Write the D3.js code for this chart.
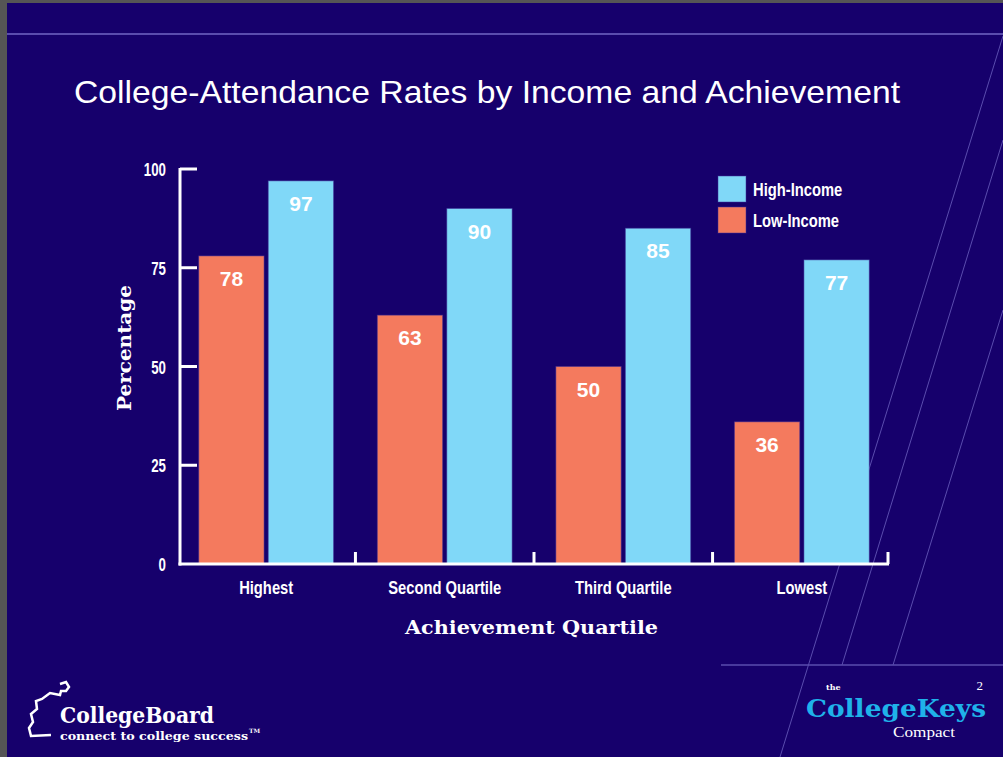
<!DOCTYPE html>
<html>
<head>
<meta charset="utf-8">
<script src="https://cdn.jsdelivr.net/npm/d3@7"></script>
<style>
  html, body { margin: 0; padding: 0; background: #16006c; }
  svg { display: block; }
</style>
</head>
<body>
<div id="chart"></div>
<script>
// chart data
const categories = ["Highest", "Second Quartile", "Third Quartile", "Lowest"];
const series = ["Low-Income", "High-Income"];
const lowIncome = [78, 63, 50, 36];
const highIncome = [97, 90, 85, 77];
const yTicks = [0, 25, 50, 75, 100];
const legendOrder = ["High-Income", "Low-Income"];

const W = 1003, H = 757;
const bg = "#16006c";
const color = d3.scaleOrdinal().domain(series).range(["#f47a5e", "#80d8f8"]);

const svg = d3.select("#chart").append("svg").attr("width", W).attr("height", H);

svg.append("rect").attr("width", W).attr("height", H).attr("fill", bg);

// slide frame: grey edge top/left
svg.append("rect").attr("x", 0).attr("y", 0).attr("width", W).attr("height", 3).attr("fill", "#555");
svg.append("rect").attr("x", 0).attr("y", 0).attr("width", 7).attr("height", H).attr("fill", "#555");

// decorative lines
const deco = svg.append("g").attr("stroke", "#5a4cae").attr("fill", "none");
deco.append("line").attr("x1", 7).attr("x2", W).attr("y1", 34).attr("y2", 34).attr("stroke-width", 2);
deco.append("line").attr("x1", 721).attr("x2", W).attr("y1", 665).attr("y2", 665).attr("stroke-width", 1.5);
deco.append("line").attr("x1", 1003).attr("y1", 36).attr("x2", 780).attr("y2", 757);
deco.append("line").attr("x1", 1003).attr("y1", 140).attr("x2", 842).attr("y2", 665);
deco.append("line").attr("x1", 1003).attr("y1", 310).attr("x2", 893).attr("y2", 665);

// title
svg.append("text")
  .attr("x", 74).attr("y", 103)
  .attr("textLength", 826).attr("lengthAdjust", "spacingAndGlyphs")
  .attr("fill", "#fff")
  .style("font-family", "Liberation Sans, Arial, sans-serif")
  .style("font-size", "32px")
  .text("College-Attendance Rates by Income and Achievement");

// scales
const x0 = d3.scaleBand().domain(categories).range([180, 888]).paddingInner(0.245).paddingOuter(0.105);
const x1 = d3.scaleBand().domain(series).range([0, x0.bandwidth()]).paddingInner(0.06);
const y = d3.scaleLinear().domain([0, 100]).range([564, 169]);

const condensed = (sel) =>
  sel.style("font-family", "Liberation Sans, Arial, sans-serif")
    .style("font-weight", "bold")
    .attr("fill", "#fff");

// bars
const rows = categories.map((c, i) => ({ cat: c, values: [
  { key: "Low-Income", v: lowIncome[i] },
  { key: "High-Income", v: highIncome[i] }
] }));

const groups = svg.append("g").selectAll("g")
  .data(rows)
  .join("g")
  .attr("transform", (d) => `translate(${x0(d.cat)},0)`);

groups.selectAll("rect")
  .data((d) => d.values)
  .join("rect")
  .attr("x", (d) => x1(d.key))
  .attr("y", (d) => y(d.v))
  .attr("width", x1.bandwidth())
  .attr("height", (d) => y(0) - y(d.v))
  .attr("fill", (d) => color(d.key))
  .attr("stroke", "#3f2f98")
  .attr("stroke-opacity", 0.5)
  .attr("stroke-width", 1);

groups.selectAll("text")
  .data((d) => d.values)
  .join("text")
  .attr("x", (d) => x1(d.key) + x1.bandwidth() / 2)
  .attr("y", (d) => y(d.v) + 30)
  .attr("text-anchor", "middle")
  .attr("fill", "#fff")
  .style("font-family", "Liberation Sans, Arial, sans-serif")
  .style("font-weight", "bold")
  .style("font-size", "21px")
  .text((d) => d.v);

// axes
const axisG = svg.append("g").attr("stroke", "#fff").attr("stroke-width", 3).attr("fill", "none");
axisG.append("line").attr("x1", 180).attr("x2", 180).attr("y1", y(100) - 1).attr("y2", y(0) + 1.5);
axisG.append("line").attr("x1", 178.5).attr("x2", 889).attr("y1", y(0)).attr("y2", y(0));
axisG.selectAll(".ytick").data(yTicks.filter((t) => t > 0)).join("line")
  .attr("x1", 180).attr("x2", 197)
  .attr("y1", (d) => y(d)).attr("y2", (d) => y(d));
const bounds = categories.slice(1).map((c) => x0(c) - x0.step() * x0.paddingInner() / 2).concat([888]);
axisG.selectAll(".xtick").data(bounds).join("line")
  .attr("x1", (d) => d).attr("x2", (d) => d)
  .attr("y1", y(0)).attr("y2", y(0) - 12);

// y tick labels
svg.append("g").selectAll("text")
  .data(yTicks)
  .join("text")
  .attr("transform", (d) => `translate(166,${y(d) + 7}) scale(0.7,1)`)
  .attr("text-anchor", "end")
  .call(condensed)
  .style("font-size", "19px")
  .text((d) => d);

// category labels
svg.append("g").selectAll("text")
  .data(categories)
  .join("text")
  .attr("transform", (d) => `translate(${x0(d) + x0.bandwidth() / 2},${594}) scale(0.82,1)`)
  .attr("text-anchor", "middle")
  .call(condensed)
  .style("font-size", "18px")
  .text((d) => d);

// axis titles
const slab = (sel) =>
  sel.style("font-family", "DejaVu Serif, serif")
    .style("font-weight", "bold")
    .attr("fill", "#fff");

svg.append("text")
  .attr("x", 405).attr("y", 634)
  .attr("textLength", 253).attr("lengthAdjust", "spacingAndGlyphs")
  .call(slab).style("font-size", "19px")
  .text("Achievement Quartile");

svg.append("text")
  .attr("transform", "translate(131,411) rotate(-90)")
  .attr("textLength", 126).attr("lengthAdjust", "spacingAndGlyphs")
  .call(slab).style("font-size", "18px")
  .text("Percentage");

// legend
const legend = svg.append("g").selectAll("g")
  .data(legendOrder)
  .join("g")
  .attr("transform", (d, i) => `translate(718,${176 + i * 31})`);
legend.append("rect")
  .attr("width", 28).attr("height", 26)
  .attr("fill", (d) => color(d))
  .attr("stroke", "#3f2f98").attr("stroke-opacity", 0.5);
legend.append("text")
  .attr("transform", "translate(35,20) scale(0.82,1)")
  .call(condensed)
  .style("font-size", "18px")
  .text((d) => d);

// footer: College Board logo
const logo = svg.append("g");
logo.append("path")
  .attr("d", "M60,684 l6,-2 l3,5 l-3,4 l-5,0 l-1,4 l-10,-2 l-8,6 l-6,2 l1,8 l-6,5 l2,8 l-4,6 l2,8 l20,-1")
  .attr("fill", "none").attr("stroke", "#fff").attr("stroke-width", 2.5);
logo.append("text")
  .attr("x", 60).attr("y", 723)
  .attr("textLength", 154).attr("lengthAdjust", "spacingAndGlyphs")
  .call(slab).style("font-size", "22px")
  .text("CollegeBoard");
logo.append("text")
  .attr("x", 60).attr("y", 740)
  .attr("textLength", 188).attr("lengthAdjust", "spacingAndGlyphs")
  .call(slab).style("font-size", "11px")
  .text("connect to college success");
logo.append("text")
  .attr("x", 249).attr("y", 733)
  .call(slab).style("font-size", "6px")
  .text("TM");

// footer: College Keys logo
svg.append("text")
  .attr("x", 983).attr("y", 690).attr("text-anchor", "end")
  .attr("fill", "#fff")
  .style("font-family", "Liberation Serif, serif").style("font-size", "13px")
  .text("2");
svg.append("text")
  .attr("x", 826).attr("y", 690)
  .call(slab).style("font-size", "8px")
  .text("the");
svg.append("text")
  .attr("x", 806).attr("y", 717)
  .attr("textLength", 180).attr("lengthAdjust", "spacingAndGlyphs")
  .call(slab).attr("fill", "#1fb2ea").style("font-size", "25px")
  .text("CollegeKeys");
svg.append("text")
  .attr("x", 893).attr("y", 737)
  .attr("textLength", 62).attr("lengthAdjust", "spacingAndGlyphs")
  .attr("fill", "#fff")
  .style("font-family", "Liberation Serif, serif").style("font-size", "14px")
  .text("Compact");
</script>
</body>
</html>
